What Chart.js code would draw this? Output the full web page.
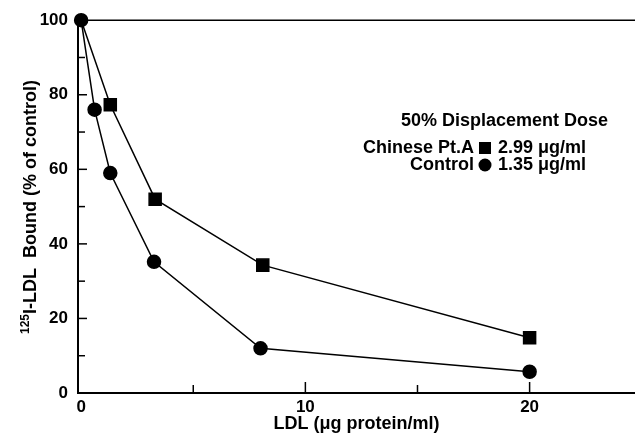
<!DOCTYPE html>
<html>
<head>
<meta charset="utf-8">
<script src="https://cdn.jsdelivr.net/npm/chart.js@4/dist/chart.umd.min.js"></script>
<style>
  html, body { margin: 0; padding: 0; background: #fff; }
  #wrap { width: 635px; height: 435px; }
</style>
</head>
<body>
<div id="wrap"><canvas id="chart"></canvas></div>
<script>
// Data
const controlDose = [0, 0.6, 1.3, 3.25, 8, 20];
const controlBound = [100, 76, 59, 35.2, 12, 5.7];
const chineseDose = [0, 1.3, 3.3, 8.1, 20];
const chineseBound = [100, 77.3, 52, 34.3, 14.8];
const xMajorTicks = [0, 10, 20];
const xMinorTicks = [5, 15];
const yMajorTicks = [0, 20, 40, 60, 80, 100];
const yMinorTicks = [10, 30, 50, 70, 90];
const legendTitle = '50% Displacement Dose';
const legendRows = [
  { name: 'Chinese Pt.A', marker: 'rect', value: '2.99 \u03bcg/ml' },
  { name: 'Control', marker: 'circle', value: '1.35 \u03bcg/ml' }
];

const FONT = '"Liberation Sans", Arial, sans-serif';

function toPoints(xs, ys) {
  return xs.map((x, i) => ({ x: x, y: ys[i] }));
}

// draws the inward ticks, the top frame line, the dose box and the y title
const extras = {
  id: 'extras',
  beforeDatasetsDraw(chart) {
    const ctx = chart.ctx;
    const area = chart.chartArea;
    const ys = chart.scales.y;
    // top line at 100, under the markers
    ctx.save();
    ctx.strokeStyle = '#000';
    ctx.lineWidth = 1.5;
    ctx.beginPath();
    ctx.moveTo(area.left, ys.getPixelForValue(100));
    ctx.lineTo(area.right, ys.getPixelForValue(100));
    ctx.stroke();
    ctx.restore();
  },
  afterDraw(chart) {
    const ctx = chart.ctx;
    const area = chart.chartArea;
    const xs = chart.scales.x;
    const ys = chart.scales.y;
    ctx.save();
    ctx.strokeStyle = '#000';
    ctx.lineWidth = 1.5;

    // x ticks pointing up into the plot
    xMajorTicks.concat(xMinorTicks).forEach(v => {
      if (v === 0) return;
      const len = xMajorTicks.includes(v) ? 11 : 8;
      const px = xs.getPixelForValue(v);
      ctx.beginPath();
      ctx.moveTo(px, area.bottom);
      ctx.lineTo(px, area.bottom - len);
      ctx.stroke();
    });
    // y ticks pointing right into the plot
    yMajorTicks.concat(yMinorTicks).forEach(v => {
      if (v === 0 || v === 100) return;
      const len = yMajorTicks.includes(v) ? 9 : 7;
      const py = ys.getPixelForValue(v);
      ctx.beginPath();
      ctx.moveTo(area.left, py);
      ctx.lineTo(area.left + len, py);
      ctx.stroke();
    });

    // dose box
    ctx.fillStyle = '#000';
    ctx.font = 'bold 18px ' + FONT;
    ctx.textBaseline = 'middle';
    ctx.textAlign = 'right';
    ctx.fillText(legendTitle, 608, 121);
    legendRows.forEach((row, i) => {
      const cy = 148 + i * 17;
      ctx.textAlign = 'right';
      ctx.fillText(row.name, 474, cy);
      ctx.beginPath();
      if (row.marker === 'rect') {
        ctx.rect(479, cy - 6, 12, 12);
      } else {
        ctx.arc(485, cy, 6.5, 0, Math.PI * 2);
      }
      ctx.fill();
      ctx.textAlign = 'left';
      ctx.fillText(row.value, 498, cy);
    });

    // y axis title with superscript 125
    ctx.translate(30, 207);
    ctx.rotate(-Math.PI / 2);
    const main = 'I-LDL  Bound (% of control)';
    const sup = '125';
    ctx.font = 'bold 18px ' + FONT;
    const wMain = ctx.measureText(main).width;
    ctx.font = 'bold 12px ' + FONT;
    const wSup = ctx.measureText(sup).width;
    const start = -(wMain + wSup) / 2;
    ctx.textAlign = 'left';
    ctx.textBaseline = 'alphabetic';
    ctx.fillText(sup, start, -1);
    ctx.font = 'bold 18px ' + FONT;
    ctx.fillText(main, start + wSup, 6);
    ctx.restore();
  }
};

new Chart(document.getElementById('chart'), {
  type: 'scatter',
  data: {
    datasets: [{
      label: 'Control',
      data: toPoints(controlDose, controlBound),
      showLine: true,
      clip: false,
      borderColor: '#000',
      backgroundColor: '#000',
      borderWidth: 1.5,
      pointStyle: 'circle',
      pointRadius: 6.5,
      pointHoverRadius: 6.5
    }, {
      label: 'Chinese Pt.A',
      data: toPoints(chineseDose, chineseBound),
      showLine: true,
      clip: false,
      borderColor: '#000',
      backgroundColor: '#000',
      borderWidth: 1.5,
      pointStyle: 'rect',
      // shared starting point is shown as a circle in the figure
      pointRadius: c => (c.dataIndex === 0 ? 0 : 8.5),
      pointHoverRadius: c => (c.dataIndex === 0 ? 0 : 8.5)
    }]
  },
  options: {
    responsive: true,
    maintainAspectRatio: false,
    animation: false,
    layout: { autoPadding: false, padding: { top: 20, right: 0, left: 0, bottom: 0 } },
    plugins: {
      legend: { display: false },
      tooltip: { enabled: false }
    },
    scales: {
      x: {
        type: 'linear',
        min: -0.14,
        max: 24.7,
        afterFit: s => { s.height = 42; s.paddingRight = 0; },
        afterBuildTicks: s => { s.ticks = xMajorTicks.map(v => ({ value: v })); },
        grid: { display: false, drawTicks: false },
        border: { display: true, color: '#000', width: 2 },
        ticks: {
          color: '#000',
          padding: 4,
          font: { family: FONT, size: 17, weight: 'bold' }
        },
        title: {
          display: true,
          text: 'LDL (\u03bcg protein/ml)',
          color: '#000',
          padding: { top: 0, bottom: 0 },
          font: { family: FONT, size: 18, weight: 'bold' }
        }
      },
      y: {
        min: 0,
        max: 100,
        afterFit: s => { s.width = 78; },
        afterBuildTicks: s => { s.ticks = yMajorTicks.map(v => ({ value: v })); },
        grid: { display: false, drawTicks: false },
        border: { display: true, color: '#000', width: 2 },
        ticks: {
          color: '#000',
          padding: 10,
          font: { family: FONT, size: 17, weight: 'bold' }
        }
      }
    }
  },
  plugins: [extras]
});
</script>
</body>
</html>
